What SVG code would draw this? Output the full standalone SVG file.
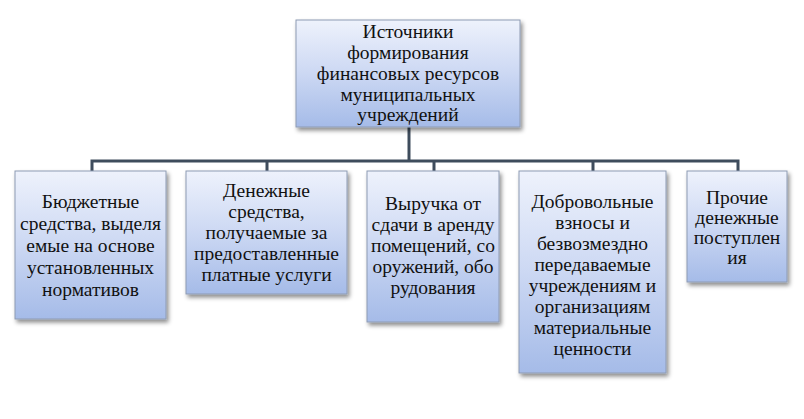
<svg xmlns="http://www.w3.org/2000/svg" width="804" height="419" viewBox="0 0 804 419">
<defs>
<linearGradient id="g" x1="0" y1="0" x2="0" y2="1">
<stop offset="0" stop-color="#eef2fc"/>
<stop offset="0.5" stop-color="#ccd8f3"/>
<stop offset="1" stop-color="#a5bbe8"/>
</linearGradient>
<filter id="sh" x="-10%" y="-10%" width="125%" height="125%">
<feDropShadow dx="2" dy="3" stdDeviation="2" flood-color="#000" flood-opacity="0.45"/>
</filter>
<style>
.box{fill:url(#g);stroke:#8e9bb3;stroke-width:1;filter:url(#sh)}
.t{font-size:19.5px;fill:#111111;text-anchor:middle}
.c{fill:none;stroke:#3e4c5c;stroke-width:3}
</style>
</defs>
<rect width="804" height="419" fill="#ffffff"/>
<g id="connectors">
<path class="c" d="M409,127 V161"/>
<path class="c" d="M92,171 V161 H738 V171"/>
<path class="c" d="M267,161 V171 M434,161 V171 M593,161 V171"/>
</g>
<g font-family="'Liberation Serif', 'DejaVu Serif', serif">
<g id="root">
<rect class="box" x="296" y="20" width="224" height="107"/>
<text class="t" x="408" y="38">Источники</text>
<text class="t" x="408" y="59">формирования</text>
<text class="t" x="408" y="80">финансовых ресурсов</text>
<text class="t" x="408" y="101">муниципальных</text>
<text class="t" x="408" y="121">учреждений</text>
</g>
<g id="n1">
<rect class="box" x="15" y="171" width="151" height="148"/>
<text class="t" x="90.5" y="208">Бюджетные</text>
<text class="t" x="90.5" y="230">средства, выделя</text>
<text class="t" x="90.5" y="252">емые на основе</text>
<text class="t" x="90.5" y="274">установленных</text>
<text class="t" x="90.5" y="296">нормативов</text>
</g>
<g id="n2">
<rect class="box" x="186" y="171" width="161" height="123"/>
<text class="t" x="266.5" y="197">Денежные</text>
<text class="t" x="266.5" y="218">средства,</text>
<text class="t" x="266.5" y="239">получаемые за</text>
<text class="t" x="266.5" y="260">предоставленные</text>
<text class="t" x="266.5" y="281">платные услуги</text>
</g>
<g id="n3">
<rect class="box" x="367" y="171" width="132" height="151"/>
<text class="t" x="433" y="210">Выручка от</text>
<text class="t" x="433" y="231">сдачи в аренду</text>
<text class="t" x="433" y="252">помещений, со</text>
<text class="t" x="433" y="273">оружений, обо</text>
<text class="t" x="433" y="294">рудования</text>
</g>
<g id="n4">
<rect class="box" x="519" y="171" width="147" height="202"/>
<text class="t" x="592.5" y="208">Добровольные</text>
<text class="t" x="592.5" y="229">взносы и</text>
<text class="t" x="592.5" y="250">безвозмездно</text>
<text class="t" x="592.5" y="271">передаваемые</text>
<text class="t" x="592.5" y="292">учреждениям и</text>
<text class="t" x="592.5" y="313">организациям</text>
<text class="t" x="592.5" y="334">материальные</text>
<text class="t" x="592.5" y="355">ценности</text>
</g>
<g id="n5">
<rect class="box" x="687" y="171" width="100" height="111"/>
<text class="t" x="737" y="204">Прочие</text>
<text class="t" x="737" y="224">денежные</text>
<text class="t" x="737" y="244">поступлен</text>
<text class="t" x="737" y="264">ия</text>
</g>
</g>
</svg>
